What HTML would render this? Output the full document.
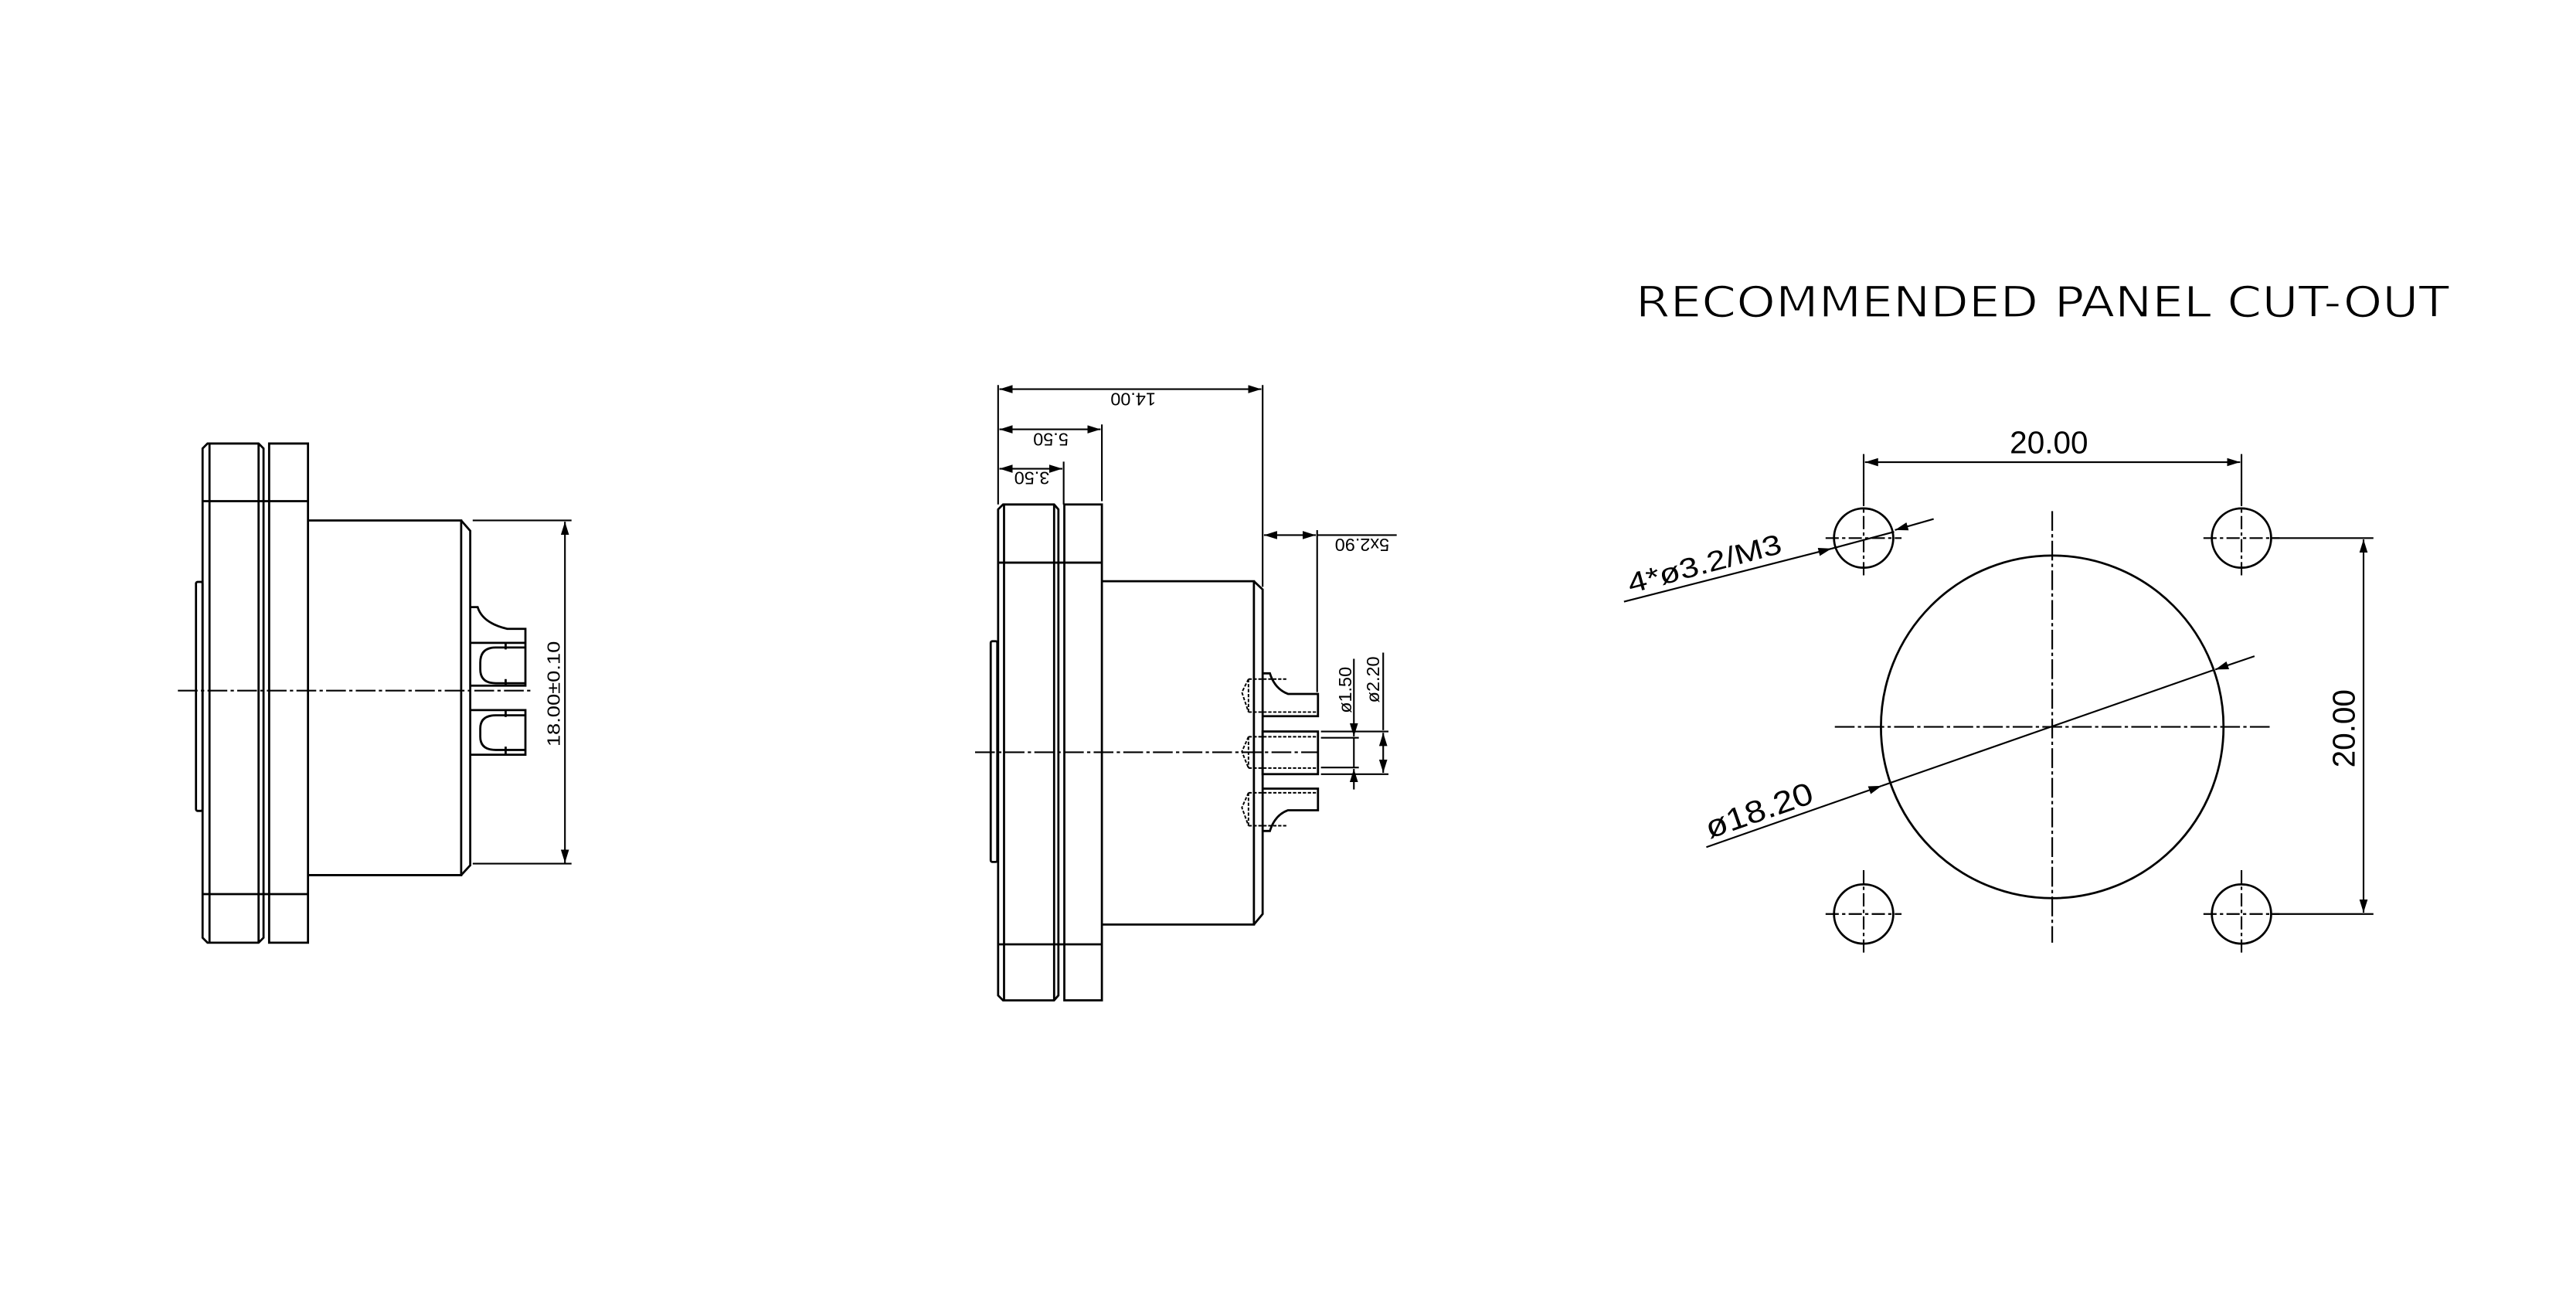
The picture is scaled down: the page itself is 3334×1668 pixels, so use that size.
<!DOCTYPE html>
<html><head><meta charset="utf-8"><style>
html,body{margin:0;padding:0;background:#fff;}
svg{display:block;}
text{font-family:"Liberation Sans",sans-serif;fill:#000;}
</style></head><body>
<svg width="3334" height="1668" viewBox="0 0 1564 782" xmlns="http://www.w3.org/2000/svg">
<defs>
<marker id="a" markerUnits="userSpaceOnUse" markerWidth="9" markerHeight="6" refX="8" refY="2.5" orient="auto-start-reverse">
<path d="M0,0 L8,2.5 L0,5 z" fill="#000"/>
</marker>
</defs>
<g fill="none" stroke="#000" stroke-width="1.3">

<!-- ============ LEFT VIEW ============ -->
<path d="M126,269 L157,269 L160,272 L160,569 L157,572 L126,572 L123,569 L123,272 Z"/>
<line x1="127.2" y1="269" x2="127.2" y2="572"/>
<line x1="157" y1="269" x2="157" y2="572"/>
<path d="M163.4,269 L187,269 L187,572 L163.4,572 Z"/>
<line x1="123" y1="304" x2="187" y2="304"/>
<line x1="123" y1="542.5" x2="187" y2="542.5"/>
<rect x="119" y="353" width="4" height="139" rx="1"/>
<path d="M187,315.7 L280,315.7 L280,531 L187,531"/>
<path d="M280,315.7 L285.5,322 L285.5,525 L280,531"/>
<!-- pins -->
<path d="M285.5,368.3 L290,368.3 Q293,378 308,381.5 L319,381.5 L319,416 L285.5,416"/>
<line x1="285.5" y1="390" x2="319" y2="390"/>
<path d="M319,392.8 L301,392.8 Q291.6,392.8 291.6,402 L291.6,406 Q291.6,414.5 301,414.5 L319,414.5"/>
<line x1="307" y1="390" x2="307" y2="394"/><line x1="307" y1="412" x2="307" y2="416"/>
<path d="M285.5,430.8 L319,430.8 L319,457.9 L285.5,457.9"/>
<path d="M319,434 L301,434 Q291.6,434 291.6,442 L291.6,447 Q291.6,455 301,455 L319,455"/>
<line x1="307" y1="430.8" x2="307" y2="435"/><line x1="307" y1="453" x2="307" y2="457.9"/>
<!-- centerline -->
<line x1="108" y1="419" x2="322" y2="419" stroke-width="1" stroke-dasharray="12 2 2 2"/>
<!-- dimension -->
<line x1="287" y1="315.7" x2="347" y2="315.7" stroke-width="1"/>
<line x1="287" y1="524" x2="347" y2="524" stroke-width="1"/>
<line x1="343" y1="316.5" x2="343" y2="523.5" stroke-width="1" marker-start="url(#a)" marker-end="url(#a)"/>

<!-- ============ MIDDLE VIEW ============ -->
<path d="M609,306 L640,306 L642.6,309 L642.6,604 L640,607 L609,607 L606,604 L606,309 Z"/>
<line x1="609.6" y1="306" x2="609.6" y2="607"/>
<line x1="640" y1="306" x2="640" y2="607"/>
<rect x="646.2" y="306" width="22.8" height="301"/>
<line x1="606" y1="341.3" x2="669" y2="341.3"/>
<line x1="606" y1="573" x2="669" y2="573"/>
<rect x="601.5" y="389" width="4" height="134" rx="1"/>
<path d="M669,352.6 L761.3,352.6 L761.3,561 L669,561"/>
<path d="M761.3,352.6 L766.6,357.6 L766.6,554.6 L761.3,561"/>
<!-- pins -->
<path d="M766.6,408.5 L771,408.5 Q774,418 782,421 L800.2,421 L800.2,434.5 L766.6,434.5"/>
<rect x="766.6" y="443.8" width="33.6" height="25.9"/>
<path d="M766.6,504.2 L771,504.2 Q774,494.5 782,491.6 L800.2,491.6 L800.2,478.5 L766.6,478.5"/>
<g stroke-width="0.9" stroke-dasharray="2 1">
<line x1="758" y1="412" x2="782" y2="412"/><line x1="758" y1="432" x2="800" y2="432"/>
<line x1="758" y1="447" x2="800" y2="447"/><line x1="758" y1="466" x2="800" y2="466"/>
<line x1="758" y1="481" x2="800" y2="481"/><line x1="758" y1="501" x2="782" y2="501"/>
<path d="M758,412 L754,420 L758,432"/><path d="M758,447 L754,456 L758,466"/><path d="M758,481 L754,490 L758,501"/>
<line x1="758" y1="412" x2="758" y2="432"/><line x1="758" y1="447" x2="758" y2="466"/><line x1="758" y1="481" x2="758" y2="501"/>
</g>
<line x1="592" y1="456.4" x2="800" y2="456.4" stroke-width="1" stroke-dasharray="12 2 2 2"/>
<!-- dimensions -->
<g stroke-width="1">
<line x1="606" y1="233.5" x2="606" y2="306"/>
<line x1="766.6" y1="233.5" x2="766.6" y2="356"/>
<line x1="606.8" y1="236" x2="765.8" y2="236" marker-start="url(#a)" marker-end="url(#a)"/>
<line x1="669" y1="257.4" x2="669" y2="304"/>
<line x1="606.8" y1="260.4" x2="668.2" y2="260.4" marker-start="url(#a)" marker-end="url(#a)"/>
<line x1="645.8" y1="280" x2="645.8" y2="306"/>
<line x1="606.8" y1="284.3" x2="645" y2="284.3" marker-start="url(#a)" marker-end="url(#a)"/>
<line x1="767.4" y1="324.6" x2="798.9" y2="324.6" marker-start="url(#a)" marker-end="url(#a)"/>
<line x1="799.7" y1="324.6" x2="848" y2="324.6"/>
<line x1="799.7" y1="321.6" x2="799.7" y2="419.9"/>
<line x1="802" y1="447.6" x2="825" y2="447.6"/>
<line x1="802" y1="465.7" x2="825" y2="465.7"/>
<line x1="822" y1="399.7" x2="822" y2="446.8" marker-end="url(#a)"/>
<line x1="822" y1="479" x2="822" y2="466.5" marker-end="url(#a)"/>
<line x1="822" y1="447.6" x2="822" y2="465.7"/>
<line x1="802" y1="443.8" x2="843" y2="443.8"/>
<line x1="802" y1="469.7" x2="843" y2="469.7"/>
<line x1="839.8" y1="395.9" x2="839.8" y2="443"/>
<line x1="839.8" y1="444.6" x2="839.8" y2="468.9" marker-start="url(#a)" marker-end="url(#a)"/>
</g>

<!-- ============ RIGHT VIEW ============ -->
<circle cx="1246" cy="441" r="104"/>
<g stroke-width="1" stroke-dasharray="12 2 2 2">
<line x1="1246" y1="310" x2="1246" y2="572"/>
<line x1="1114" y1="441" x2="1378" y2="441"/>
</g>
<g>
<circle cx="1131.5" cy="326.4" r="18"/>
<circle cx="1360.9" cy="326.4" r="18"/>
<circle cx="1131.5" cy="554.6" r="18"/>
<circle cx="1360.9" cy="554.6" r="18"/>
</g>
<g stroke-width="1" stroke-dasharray="8 2 2 2">
<line x1="1108.4" y1="326.4" x2="1154.5" y2="326.4"/><line x1="1131.5" y1="299" x2="1131.5" y2="350"/>
<line x1="1337.8" y1="326.4" x2="1384" y2="326.4"/><line x1="1360.9" y1="299" x2="1360.9" y2="350"/>
<line x1="1108.4" y1="554.6" x2="1154.5" y2="554.6"/><line x1="1131.5" y1="528" x2="1131.5" y2="578"/>
<line x1="1337.8" y1="554.6" x2="1384" y2="554.6"/><line x1="1360.9" y1="528" x2="1360.9" y2="578"/>
</g>
<g stroke-width="1">
<line x1="1131.5" y1="275.4" x2="1131.5" y2="299"/>
<line x1="1360.9" y1="275.4" x2="1360.9" y2="299"/>
<line x1="1132.3" y1="280.3" x2="1360.1" y2="280.3" marker-start="url(#a)" marker-end="url(#a)"/>
<line x1="1379" y1="326.4" x2="1441" y2="326.4"/>
<line x1="1379" y1="554.6" x2="1441" y2="554.6"/>
<line x1="1435" y1="327.2" x2="1435" y2="553.8" marker-start="url(#a)" marker-end="url(#a)"/>
<line x1="986" y1="365" x2="1112" y2="332.8" marker-end="url(#a)"/>
<line x1="1112" y1="332.8" x2="1150" y2="322.6"/>
<line x1="1174" y1="314.8" x2="1150.5" y2="321.5" marker-end="url(#a)"/>
<line x1="1036" y1="514" x2="1142.5" y2="476.8" marker-end="url(#a)"/>
<line x1="1142.5" y1="476.8" x2="1344" y2="406.5"/>
<line x1="1368.8" y1="398.1" x2="1345" y2="406.2" marker-end="url(#a)"/>
</g>
</g>

<!-- TEXT -->
<text x="0" y="0" font-size="11" text-anchor="middle" dominant-baseline="central" textLength="64" lengthAdjust="spacingAndGlyphs" transform="translate(336,421) rotate(-90)">18.00±0.10</text>
<text font-size="11" text-anchor="middle" dominant-baseline="central" transform="translate(688,242) rotate(180)">14.00</text>
<text font-size="11" text-anchor="middle" dominant-baseline="central" transform="translate(638,266.5) rotate(180)">5.50</text>
<text font-size="11" text-anchor="middle" dominant-baseline="central" transform="translate(626.5,290) rotate(180)">3.50</text>
<text font-size="11" text-anchor="middle" dominant-baseline="central" transform="translate(827,330.4) rotate(180)">5x2.90</text>
<text font-size="11" text-anchor="middle" dominant-baseline="central" transform="translate(816.6,418.6) rotate(-90)">ø1.50</text>
<text font-size="11" text-anchor="middle" dominant-baseline="central" transform="translate(833.6,412.3) rotate(-90)">ø2.20</text>

<text x="993" y="192" font-size="26" textLength="494" lengthAdjust="spacingAndGlyphs" font-weight="normal" style="font-family:'DejaVu Sans Condensed','Liberation Sans',sans-serif" fill="#000" stroke="#fff" stroke-width="0.6">RECOMMENDED PANEL CUT-OUT</text>
<text x="1244" y="275" font-size="19" text-anchor="middle">20.00</text>
<text font-size="19" text-anchor="middle" dominant-baseline="central" transform="translate(1423,442) rotate(-90)">20.00</text>
<text font-size="17" textLength="96" lengthAdjust="spacingAndGlyphs" transform="translate(990,360) rotate(-15)">4*ø3.2/M3</text>
<text font-size="19" textLength="68" lengthAdjust="spacingAndGlyphs" transform="translate(1038,509) rotate(-19.2)">ø18.20</text>
</svg>
</body></html>
